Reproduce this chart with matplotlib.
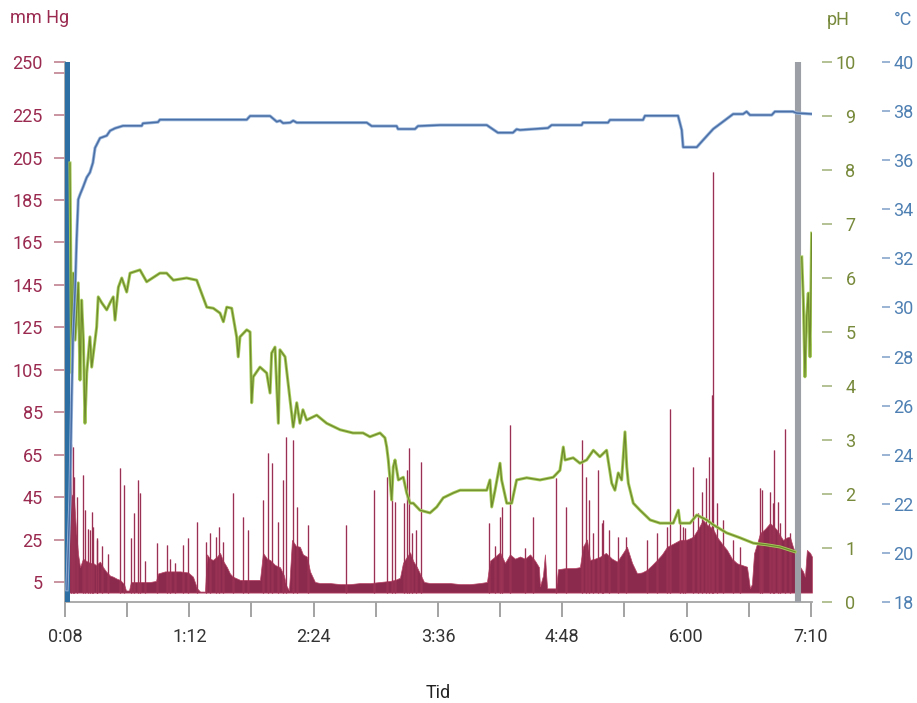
import numpy as np
import matplotlib
matplotlib.use("Agg")
import matplotlib.pyplot as plt

plt.rcParams['font.family'] = ['Roboto', 'DejaVu Sans']

# time axis in minutes, labels as printed on the chart
tick_labels = ['0:08', '', '1:12', '', '2:24', '', '3:36', '', '4:48', '', '6:00', '', '7:10']

# pressure (mm Hg): dense background level ...
env_t = [9.7, 10.8, 12.0, 13.1, 14.2, 15.4, 16.5, 18.2, 19.9, 22.1,
         23.8, 25.5, 27.8, 29.5, 31.2, 33.5, 35.2, 37.4, 39.1, 41.4,
         42.5, 44.2, 45.3, 50.4, 56.1, 59.5, 60.6, 64.6, 68.5, 73.1,
         77.6, 80.4, 82.7, 84.4, 87.2, 88.3, 90.0, 91.7, 94.0, 95.7,
         97.4, 99.6, 101.3, 103.0, 107.0, 112.7, 118.3, 120.0, 122.3, 124.0,
         126.8, 129.6, 131.9, 133.0, 134.7, 136.4, 138.7, 140.9, 142.6, 144.9,
         146.6, 149.4, 152.3, 157.9, 163.6, 169.2, 174.9, 180.5, 186.2, 191.9,
         194.7, 197.5, 199.2, 201.5, 203.2, 204.9, 207.1, 208.8, 211.1, 214.5,
         220.1, 225.8, 231.5, 237.1, 242.8, 246.7, 248.4, 251.3, 254.1, 256.9,
         259.7, 262.6, 265.4, 268.2, 271.1, 273.9, 276.1, 276.7, 278.4, 279.5,
         280.7, 283.5, 285.8, 286.9, 290.9, 296.5, 299.3, 301.0, 303.3, 305.0,
         307.8, 310.6, 314.0, 317.4, 320.3, 323.1, 325.9, 328.8, 331.6, 334.4,
         337.2, 340.1, 342.9, 345.7, 348.6, 351.9, 355.9, 359.9, 363.3, 366.1,
         368.9, 371.2, 372.9, 374.6, 376.8, 379.7, 382.5, 385.3, 388.2, 391.0,
         393.8, 395.5, 396.6, 397.8, 399.5, 401.2, 404.0, 406.8, 409.1, 410.8,
         412.5, 414.2, 416.4, 418.1, 419.8, 421.5, 423.8, 425.5, 426.6, 427.7,
         429.5, 430.6]
env_p = [45, 47, 46, 44, 30, 18, 12, 16, 15, 14,
         14, 13, 14.6, 12, 10, 8, 7.5, 6.5, 6, 4,
         1, 1, 5, 5, 5, 5.5, 9, 10, 10, 10,
         9.5, 7.5, 2, 0.5, 0.5, 18, 16, 15.4, 17, 18.7,
         15, 12, 9, 7.5, 6, 6, 6, 18.7, 16, 15.4,
         13, 12, 8, 3.6, 1, 24.8, 22, 21.6, 18, 16.9,
         10, 5, 4.5, 4.5, 4, 4, 4.5, 4.5, 5, 5.5,
         6, 7, 14, 17, 19, 15, 12, 9, 5, 4.5,
         4.5, 4.5, 4, 4, 4.5, 5, 15, 17, 19, 14,
         18, 16, 17, 16, 18, 15, 12, 3, 8, 18,
         2, 2, 2, 11, 11.5, 11.6, 12, 21.6, 25, 15.4,
         16, 16.9, 18.7, 16, 14.6, 18, 21.6, 14, 9.1, 9.5,
         10.7, 13, 15.4, 18, 21.6, 23, 24.8, 25, 26.3, 30,
         34.2, 32, 31.1, 30, 26.3, 23, 20.1, 16, 13.8, 13,
         12.2, 2, 4, 18.5, 23, 28, 30, 32.7, 31, 29.5,
         27, 24.8, 26, 26.3, 21.6, 18, 12.2, 10, 7.5, 20.1,
         18.7, 16.9]

# ... and the single peak readings
spike_t = [11.4, 12.4, 13.1, 14.6, 18.4, 19.3, 21.0, 22.1, 23.1, 24.0,
           25.9, 26.3, 28.9, 32.3, 39.1, 41.4, 45.2, 47.0, 49.5, 50.4,
           53.3, 60.2, 65.5, 67.4, 70.2, 74.6, 77.8, 82.5, 87.8, 90.0,
           93.4, 95.3, 97.4, 102.9, 108.9, 111.7, 120.2, 123.0, 124.9, 128.7,
           131.5, 133.0, 137.1, 139.1, 145.6, 166.8, 182.8, 190.0, 192.8, 194.7,
           199.8, 201.6, 202.6, 204.1, 206.4, 209.4, 248.0, 251.3, 254.1, 255.4,
           259.7, 268.2, 272.6, 285.8, 291.5, 300.3, 302.7, 304.6, 306.7, 309.3,
           311.6, 312.2, 315.9, 320.8, 325.4, 337.1, 343.1, 348.4, 350.3, 355.9,
           357.6, 358.8, 363.5, 366.3, 368.2, 370.5, 372.3, 374.2, 374.7, 376.6,
           380.4, 385.7, 389.8, 401.2, 402.1, 406.8, 408.7, 409.3, 411.5, 412.5,
           415.3, 418.1]
spike_p = [70, 68.8, 54.6, 45.2, 55.4, 38.9, 30, 29.5, 38.1, 31.1,
           25.6, 24.8, 22, 18, 58.6, 50.7, 25.6, 37.4, 53.1, 46.8,
           15, 23.5, 22.4, 16, 14, 22.4, 25.6, 33.4, 24, 28,
           26, 31.1, 24, 46.8, 35.8, 29.5, 43.6, 65.6, 61, 33.4,
           53.1, 73.5, 71.9, 40.5, 31.9, 31.9, 48.4, 54.6, 43.6, 42.8,
           42.1, 57.8, 68.0, 28, 29.5, 61.7, 32.7, 22, 35.8, 40.5,
           79.0, 20.9, 35.8, 53.9, 40.5, 71.9, 54.6, 43.6, 28, 57.8,
           32.8, 34.2, 29.5, 26, 26, 24.8, 28, 31, 86.4, 34.2,
           31, 30.3, 59.3, 37.4, 47.6, 53.9, 64.0, 93, 198, 42.1,
           34.2, 24.8, 21.6, 49.2, 48.4, 47.6, 42, 67.2, 42.8, 32.7,
           77, 28]

# temperature (deg C)
temp_t = [9.1, 10.8, 11.8, 12.5, 13.7, 14.6, 15.5, 16.5, 18.2, 20.3,
          22.1, 23.8, 25.0, 27.8, 31.6, 33.5, 36.3, 40.8, 51.4, 52.1,
          60.6, 61.7, 110.8, 112.7, 124.0, 127.8, 129.7, 131.4, 135.4, 137.1,
          139.1, 178.7, 181.5, 195.6, 196.4, 206.0, 207.7, 220.1, 246.6, 252.9,
          261.4, 263.5, 265.4, 281.2, 283.3, 300.3, 301.0, 315.2, 316.3, 335.0,
          336.1, 354.8, 356.9, 357.7, 365.4, 369.0, 374.7, 382.3, 386.0, 391.6,
          393.6, 395.5, 407.8, 409.6, 419.8, 421.9, 431.0]
temp_c = [18.5, 22.2, 26.4, 28.7, 30.7, 32.8, 34.4, 34.6, 34.9, 35.3,
          35.5, 35.9, 36.5, 36.9, 37.0, 37.2, 37.3, 37.4, 37.4, 37.5,
          37.55, 37.65, 37.65, 37.8, 37.8, 37.57, 37.61, 37.51, 37.53, 37.61,
          37.53, 37.53, 37.39, 37.39, 37.27, 37.27, 37.39, 37.43, 37.43, 37.12,
          37.12, 37.26, 37.23, 37.31, 37.43, 37.43, 37.53, 37.53, 37.64, 37.64,
          37.81, 37.81, 37.23, 36.53, 36.53, 36.82, 37.27, 37.68, 37.88, 37.88,
          37.98, 37.84, 37.84, 37.98, 37.98, 37.92, 37.88]

# pH
ph_t = [10.8, 11.8, 12.7, 13.7, 15.5, 16.5, 17.4, 18.4, 19.3, 20.3,
        22.1, 23.1, 23.8, 25.0, 25.9, 26.8, 28.8, 31.6, 33.5, 35.3,
        36.3, 38.2, 40.1, 42.9, 44.8, 50.4, 54.2, 61.7, 65.5, 69.3,
        76.8, 82.5, 88.2, 91.9, 95.7, 97.6, 99.5, 102.3, 105.1, 106.0,
        107.0, 110.8, 112.7, 113.6, 114.5, 118.3, 122.1, 124.0, 124.9, 126.8,
        128.7, 129.6, 132.5, 135.3, 137.1, 139.1, 140.9, 142.6, 144.7, 150.4,
        156.0, 163.6, 170.9, 176.6, 180.5, 186.2, 189.0, 190.0, 190.9, 191.9,
        192.8, 193.7, 194.7, 196.6, 199.4, 201.3, 203.2, 205.0, 208.8, 214.5,
        218.3, 222.0, 227.7, 231.5, 235.2, 246.6, 248.4, 249.4, 251.3, 254.1,
        255.0, 257.9, 260.7, 263.5, 269.2, 276.7, 284.2, 288.0, 289.9, 290.9,
        295.5, 299.3, 303.1, 306.9, 310.6, 314.4, 317.3, 319.1, 321.0, 322.9,
        324.8, 325.8, 326.7, 329.5, 333.3, 339.0, 344.6, 352.1, 355.0, 355.9,
        361.6, 365.4, 371.0, 374.7, 382.3, 389.8, 397.4, 404.9, 412.5, 421.0,
        np.nan, 424.8, 425.7, 426.6, 427.6, 428.5, 429.5, 430.4]
ph_v = [8.13, 4.24, 6.09, 4.85, 5.91, 4.11, 5.59, 4.85, 3.31, 4.24,
        4.91, 4.35, 4.54, 4.85, 5.09, 5.65, 5.54, 5.41, 5.54, 5.65,
        5.22, 5.83, 6.0, 5.74, 6.09, 6.15, 5.93, 6.09, 6.09, 5.96,
        6.0, 5.96, 5.46, 5.44, 5.35, 5.19, 5.46, 5.44, 4.91, 4.54,
        4.91, 5.04, 5.0, 3.69, 4.17, 4.35, 4.24, 3.87, 4.61, 4.72,
        3.31, 4.67, 4.54, 3.74, 3.24, 3.69, 3.31, 3.56, 3.37, 3.46,
        3.31, 3.19, 3.13, 3.13, 3.06, 3.13, 3.04, 2.87, 2.63, 2.26,
        1.89, 2.5, 2.63, 2.26, 2.31, 2.02, 1.83, 1.83, 1.70, 1.65,
        1.76, 1.93, 2.02, 2.07, 2.07, 2.07, 2.26, 1.76, 2.07, 2.57,
        2.26, 1.83, 1.83, 2.26, 2.30, 2.26, 2.31, 2.44, 2.87, 2.63,
        2.67, 2.57, 2.63, 2.81, 2.69, 2.81, 2.20, 2.07, 2.39, 2.26,
        3.15, 2.5, 2.2, 1.83, 1.70, 1.52, 1.46, 1.46, 1.70, 1.46,
        1.46, 1.61, 1.52, 1.43, 1.28, 1.19, 1.09, 1.06, 1.02, 0.93,
        np.nan, 6.39, 5.59, 4.17, 5.28, 5.72, 4.54, 6.83]

start_mark = 9.1
end_mark = 422.9

RED = '#8c2a4d'
RED_EDGE = '#b84466'
OLIVE = '#6f8a2c'
OLIVE_LIGHT = '#a6cc5c'
BLUE = '#4a6ea6'
BLUE_LIGHT = '#9ab7db'

fig = plt.figure(figsize=(9.17, 7.03), dpi=100)
ax = fig.add_axes([65/917, 101/703, 747/917, 540/703])

ax.fill_between(env_t, 0, env_p, facecolor=RED, edgecolor=RED_EDGE, lw=0.5, zorder=2)
ax.vlines(spike_t, 0, spike_p, color=RED_EDGE, lw=1.0, zorder=2)
ax.vlines(spike_t, 0, spike_p, color=RED, lw=0.5, zorder=2)
ax.axvline(start_mark, color='#2e6fa3', lw=3.6, zorder=5)
ax.axvline(end_mark, color='#9c9fa6', lw=4.4, zorder=5)

ax.set_xlim(8, 430.6)
ax.set_ylim(-4.43, 250)
ax.set_xticks(np.linspace(8, 430, 13))
ax.set_xticklabels(tick_labels)
yt = list(range(5, 246, 20)) + [250]
ax.set_yticks(yt)
ax.set_yticklabels([str(v) if v != 245 else '' for v in yt])
ax.tick_params(axis='y', length=8, width=1.3, color='#c58b99', labelcolor='#9a2a50',
               labelsize=13, pad=8)
ax.tick_params(axis='x', length=11, width=1.3, color='#9c9c9c', labelcolor='#333333',
               labelsize=13, pad=8)
for s in ['top', 'right']:
    ax.spines[s].set_visible(False)
for s in ['left', 'bottom']:
    ax.spines[s].set_color('#a5a5a5')
    ax.spines[s].set_linewidth(1.3)

ax2 = ax.twinx()
ax2.plot(ph_t, ph_v, color=OLIVE_LIGHT, lw=2.2, solid_joinstyle='round')
ax2.plot(ph_t, ph_v, color=OLIVE, lw=0.9, solid_joinstyle='round')
ax2.set_ylim(0, 10)
ax2.set_yticks(range(0, 11))
for s in ax2.spines.values():
    s.set_visible(False)
ax2.spines['right'].set_position(('outward', 7.2))
ax2.tick_params(axis='y', length=7.2, width=1.3, color='#aebc8a', labelcolor='#77893a',
                labelsize=13, pad=17)
for lab in ax2.get_yticklabels():
    lab.set_horizontalalignment('right')

ax3 = ax.twinx()
ax3.plot(temp_t, temp_c, color=BLUE_LIGHT, lw=2.3)
ax3.plot(temp_t, temp_c, color=BLUE, lw=1.1)
ax3.set_ylim(18, 40)
ax3.set_yticks(range(18, 41, 2))
for s in ax3.spines.values():
    s.set_visible(False)
ax3.spines['right'].set_position(('outward', 50.4))
ax3.tick_params(axis='y', length=6, width=1.3, color='#93aed0', labelcolor='#4f80b3',
                labelsize=13, pad=2)

fig.text(10/917, 1 - 18/703, 'mm Hg', color='#9a2a50', fontsize=13, va='center', ha='left')
fig.text(838/917, 1 - 20/703, 'pH', color='#77893a', fontsize=13, va='center', ha='center')
fig.text(903/917, 1 - 20/703, '°C', color='#4f80b3', fontsize=13, va='center', ha='center')
fig.text(438/917, 1 - 693/703, 'Tid', color='#222222', fontsize=13, va='center', ha='center')

fig.savefig('out.png', dpi=100)
